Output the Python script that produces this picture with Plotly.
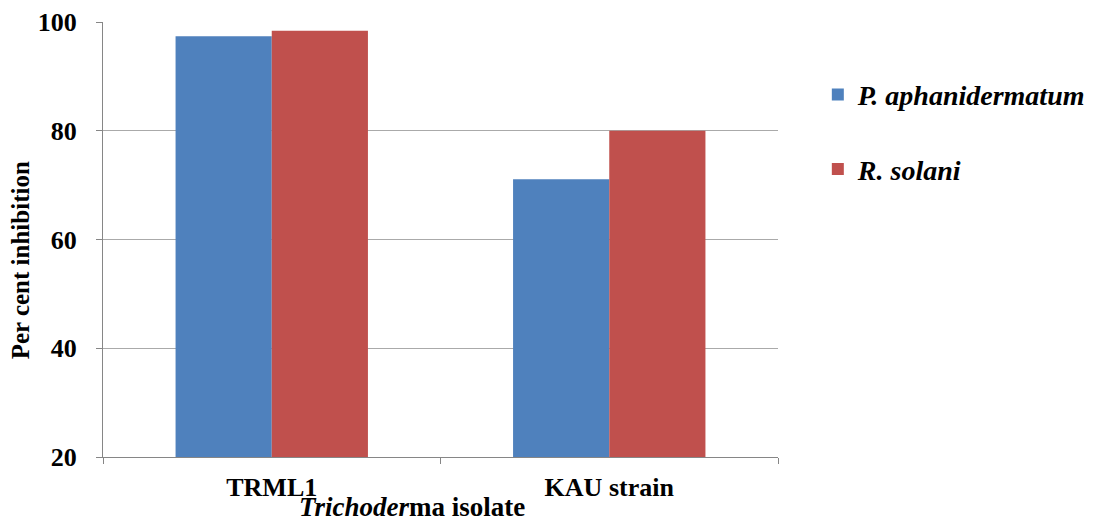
import plotly.graph_objects as go

categories = ["TRML1", "KAU strain"]
p_aphanidermatum = [97.4, 71.1]
r_solani = [98.4, 80.0]
series_names = ["P. aphanidermatum", "R. solani"]
colors = ["#4F81BD", "#C0504D"]
y_ticks = [20, 40, 60, 80, 100]

FONT = "Liberation Serif"

fig = go.Figure()
for i, (name, vals) in enumerate(zip(series_names, [p_aphanidermatum, r_solani])):
    fig.add_trace(go.Bar(
        x=categories, y=vals, name=f"<b><i>{name}</i></b>",
        marker=dict(color=colors[i], line=dict(width=0)),
        legendgroup=f"g{i}",
    ))

fig.update_layout(
    width=1094, height=527,
    margin=dict(l=95, r=324, t=14, b=78, autoexpand=False),
    plot_bgcolor="white", paper_bgcolor="white",
    barmode="group", bargap=0.43, bargroupgap=0,
    font=dict(family=FONT, size=26, color="black"),
    showlegend=True,
    legend=dict(
        x=1.059, xanchor="left", y=0.89, yanchor="top",
        font=dict(family=FONT, size=28, color="black"),
        tracegroupgap=35, traceorder="grouped",
        bgcolor="rgba(0,0,0,0)",
    ),
    xaxis=dict(
        showline=True, linecolor="#868686", linewidth=1,
        ticks="outside", tickson="boundaries", ticklen=6, tickcolor="#868686",
        tickfont=dict(family=FONT, size=26, color="black"),
        tickvals=categories, ticktext=[f"<b>{c}</b>" for c in categories],
        ticklabelstandoff=7,
        showgrid=False, automargin=False,
    ),
    yaxis=dict(
        range=[20, 100], tickvals=y_ticks,
        ticktext=[f"<b>{v}</b>" for v in y_ticks],
        showline=True, linecolor="#868686", linewidth=1,
        ticks="outside", ticklen=6, tickcolor="#868686",
        ticklabelstandoff=14,
        tickfont=dict(family=FONT, size=26, color="black"),
        showgrid=True, gridcolor="#AAAAAA", gridwidth=1,
        zeroline=False, automargin=False,
    ),
)

fig.add_annotation(
    text="<b>Per cent inhibition</b>", textangle=-90,
    xref="paper", yref="paper", x=-0.123, y=0.452,
    xanchor="center", yanchor="middle", showarrow=False,
    font=dict(family=FONT, size=25, color="black"),
)

fig.add_annotation(
    text="<b><i>Trichoder</i>ma isolate</b>",
    xref="paper", yref="paper", x=0.458, y=-0.116,
    xanchor="center", yanchor="middle", showarrow=False,
    font=dict(family=FONT, size=27, color="black"),
)

fig.write_html("out.html")
